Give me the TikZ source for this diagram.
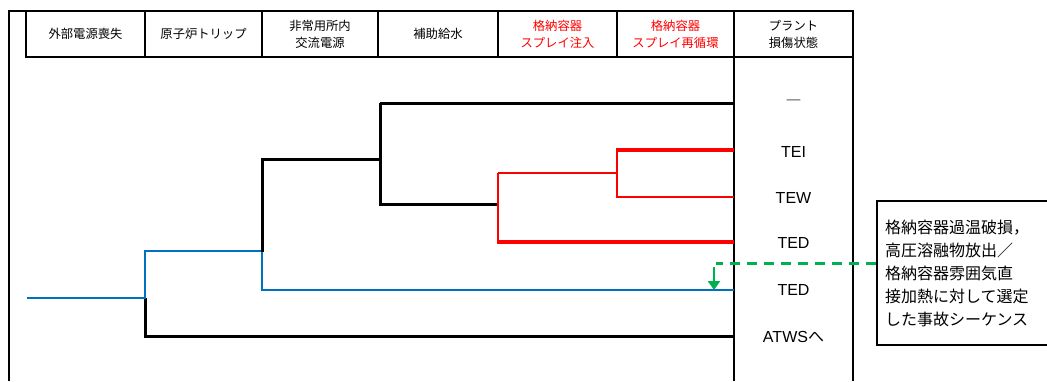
\documentclass[tikz,border=0pt]{standalone}
\usepackage{fontspec}
\setmainfont{Liberation Sans}
\newfontfamily\jp{Noto Sans CJK JP}
\usetikzlibrary{arrows.meta}
\definecolor{tred}{RGB}{255,0,0}
\definecolor{tblue}{RGB}{0,112,192}
\definecolor{tgreen}{RGB}{0,176,80}
\tikzset{
  frame/.style={line width=2pt, draw=black},
  hdr/.style={align=center, font=\jp\fontsize{12.3}{17}\selectfont, inner sep=0pt},
  hdrred/.style={hdr, text=tred},
  state/.style={font=\fontsize{16}{18}\selectfont, inner sep=0pt},
  blk/.style={line width=3pt, draw=black},
  blu/.style={line width=2.8pt, draw=tblue},
  redthick/.style={line width=4pt, draw=tred},
  redthin/.style={line width=2.4pt, draw=tred},
  grn/.style={line width=3pt, draw=tgreen, dash pattern=on 10pt off 7pt},
  callout/.style={draw=black, line width=2pt, align=left, inner sep=0pt, font=\jp\fontsize{16}{23}\selectfont}
}
\begin{document}
\begin{tikzpicture}[x=1pt,y=-1pt]
\useasboundingbox (0,0) rectangle (1047,381);
% frame
\draw[frame] (9,381) -- (9,11) -- (853,11) -- (853,381);
\draw[frame] (26,11) -- (26,57) -- (853,57);
\foreach \x in {145,262,378,498,617} \draw[frame] (\x,11) -- (\x,57);
\draw[frame] (734,11) -- (734,381);
% headers
\node[hdr] (h1) at (85.5,34) {外部電源喪失};
\node[hdr] (h2) at (203.5,34) {原子炉トリップ};
\node[hdr] (h3) at (320,34) {非常用所内\\交流電源};
\node[hdr] (h4) at (438,34) {補助給水};
\node[hdrred] (h5) at (557.5,34) {格納容器\\スプレイ注入};
\node[hdrred] (h6) at (675.5,34) {格納容器\\スプレイ再循環};
\node[hdr] (h7) at (793.5,34) {プラント\\損傷状態};
% states
\node[state] (s1) at (793.5,103) {\jp ―};
\node[state] (s2) at (793.5,152) {TEI};
\node[state] (s3) at (793.5,198) {TEW};
\node[state] (s4) at (793.5,243) {TED};
\node[state] (s5) at (793.5,290) {TED};
\node[state] (s6) at (793.5,337) {ATWS{\jp へ}};
% tree coordinates
\coordinate (start) at (27,298);
\coordinate (b1) at (145,298);
\coordinate (b2) at (262,251);
\coordinate (b3) at (380,159);
\coordinate (b4) at (498,204);
\coordinate (b5) at (617,173);
% tree
\draw[blk] (b1) -- (145,336) -- (734,336);
\draw[blu] (start) -- (b1) -- (145,251) -- (b2) -- (262,290) -- (734,290);
\draw[blk] (262,252) -- (262,159) -- (b3);
\draw[blk] (380,103) -- (380,204) -- (b4);
\draw[blk] (380,103) -- (734,103);
\draw[redthin] (498,173) -- (498,242);
\draw[redthin] (498,173) -- (617,173);
\draw[redthick] (497,242) -- (734,242);
\draw[redthin] (617,150) -- (617,197) -- (734,197);
\draw[redthick] (616,150) -- (734,150);
% callout
\node[callout, minimum width=171pt, minimum height=144pt, text width=154pt] (note) at (962,273)
 {格納容器過温破損，\\高圧溶融物放出／\\格納容器雰囲気直\\接加熱に対して選定\\した事故シーケンス};
\coordinate (corner) at (716,263);
\draw[grn] (note.west |- corner) -- (corner);
\coordinate (atip) at (714,290);
\draw[draw=tgreen, line width=2.8pt, -{Triangle[length=9pt,width=12pt]}] (714,267) -- (atip);
\end{tikzpicture}
\end{document}
